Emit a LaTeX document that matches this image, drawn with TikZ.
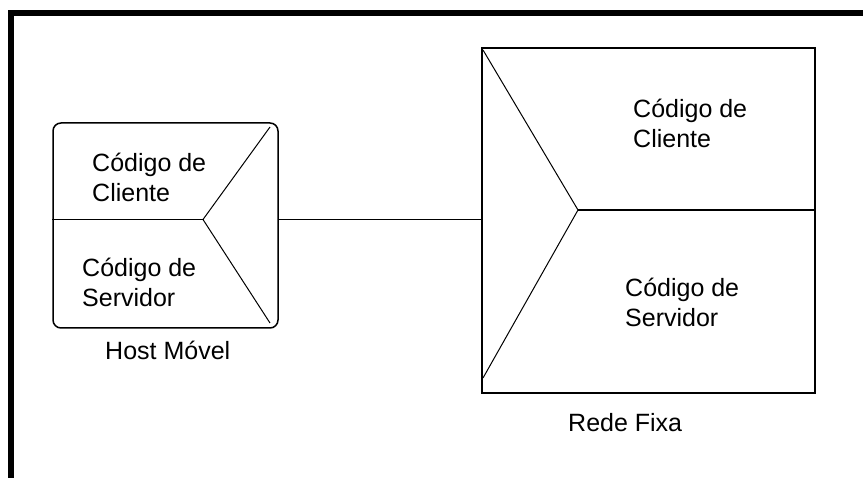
\documentclass[tikz,border=0pt]{standalone}
\usepackage{fontspec}
\setmainfont{Liberation Sans}
\usetikzlibrary{calc}

\tikzset{
  caixa/.style={draw, line width=1.5pt, inner sep=0pt},
  traco/.style={line width=1pt},
  texto/.style={anchor=base west, align=left, inner sep=0pt,
    font=\fontsize{25}{30}\selectfont},
}

\begin{document}
\begin{tikzpicture}[x=1pt,y=-1pt]
\useasboundingbox (0,0) rectangle (863,478);
% moldura
\fill (8,10) rectangle (863,16);
\fill (8,10) rectangle (14,478);
% host movel
\node[caixa, rounded corners=8pt, minimum width=225pt, minimum height=205pt] (host) at (165.5,225.5) {};
\coordinate (hv) at (203,219.5);
\draw[caixa] (host.west |- hv) -- (hv);
\draw[traco] (270,127) -- (hv) -- (270,323);
\node[texto] (hcli) at (92,202) {Código de\\Cliente};
\node[texto] (hser) at (82,307) {Código de\\Servidor};
\node[texto] (hlab) at (105,360) {Host Móvel};
% rede fixa
\node[caixa, minimum width=333pt, minimum height=345pt] (rede) at (648.5,220.5) {};
\coordinate (rv) at (578,210);
\draw[caixa] (rv) -- (rv -| rede.east);
\draw[traco] (483,50) -- (rv) -- (483,378);
\node[texto] (rcli) at (633,148) {Código de\\Cliente};
\node[texto] (rser) at (625,327) {Código de\\Servidor};
\node[texto] (rlab) at (568,432) {Rede Fixa};
% ligacao
\draw[caixa] (host.east |- hv) -- (hv -| rede.west);
\end{tikzpicture}
\end{document}
